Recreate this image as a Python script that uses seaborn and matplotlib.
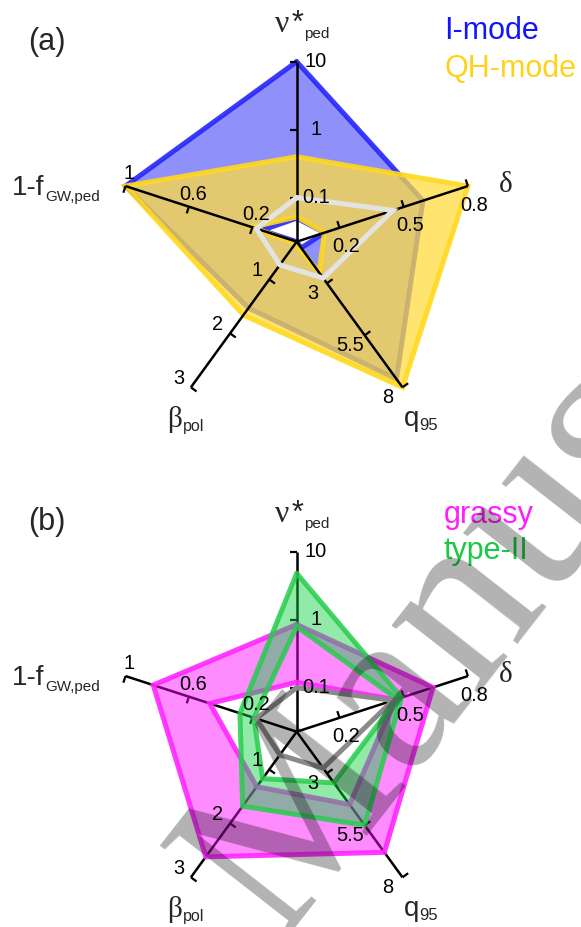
import numpy as np
import matplotlib
matplotlib.use("Agg")
import matplotlib.pyplot as plt
import seaborn as sns
from matplotlib.path import Path
from matplotlib.patches import PathPatch

# ---------------- data ----------------
AXIS_ANGLES = [90, 18, -54, -126, 162]          # nu*, delta, q95, beta_pol, 1-fGW
SCALE_LO = [0.0225, 0.0, 1.0, 0.3, -0.08]
SCALE_HI = [10.0, 0.8, 8.0, 3.0, 1.0]
SCALE_LOG = [True, False, False, False, False]
TICKS = [[0.1, 1, 10], [0.2, 0.5, 0.8], [3, 5.5, 8], [1, 2, 3], [0.2, 0.6, 1]]
TICK_LABELS = [["0.1", "1", "10"], ["0.2", "0.5", "0.8"], ["3", "5.5", "8"],
               ["1", "2", "3"], ["0.2", "0.6", "1"]]

imode_max = [10.0, 0.59, 7.6, 1.53, 1.0]
imode_min = [0.05, 0.13, 1.3, 0.3, 0.14]
qh_max = [0.4, 0.8, 8.0, 1.66, 1.0]
qh_min = [0.052, 0.13, 2.48, 0.33, 0.2]
grassy_max = [0.85, 0.637, 6.8, 2.62, 0.825]
grassy_min = [0.12, 0.46, 4.5, 1.32, 0.468]
type2_max = [4.8, 0.49, 5.5, 1.68, 0.278]
type2_min = [0.79, 0.47, 3.46, 1.17, 0.19]
reference = [0.1, 0.45, 2.75, 0.73, 0.175]

# ---------------- style ----------------
sns.set_theme(style="white")
plt.rcParams["font.family"] = ["Liberation Sans", "DejaVu Sans"]
SERIF = ["Liberation Serif", "DejaVu Serif"]

W, H = 581, 927
R = 180.0  # px per unit radius
fig = plt.figure(figsize=(W / 100, H / 100), dpi=100)


def norm(i, v):
    lo, hi = SCALE_LO[i], SCALE_HI[i]
    if SCALE_LOG[i]:
        return (np.log10(v) - np.log10(lo)) / (np.log10(hi) - np.log10(lo))
    return (v - lo) / (hi - lo)


TH = np.radians(AXIS_ANGLES)


def to_xy(vals):
    r = np.array([norm(i, v) for i, v in enumerate(vals)])
    return r * np.cos(TH), r * np.sin(TH)


def make_ax(cy, top, bottom, cx=296.7):
    ax = fig.add_axes([0, 1 - bottom / H, 1, (bottom - top) / H])
    ax.set_xlim(-cx / R, (W - cx) / R)
    ax.set_ylim(-(bottom - cy) / R, (cy - top) / R)
    ax.set_axis_off()
    return ax


def draw_axes(ax, z, lab_off):
    L = 7 / R
    for i, th in enumerate(TH):
        c, s = np.cos(th), np.sin(th)
        ax.plot([0, c], [0, s], color="black", lw=1.8, zorder=z,
                solid_capstyle="butt", clip_on=False)
        for t, lab in zip(TICKS[i], TICK_LABELS[i]):
            r = norm(i, t)
            px, py = r * c, r * s
            ax.plot([px, px - L * s], [py, py + L * c], color="black", lw=1.6,
                    zorder=z, solid_capstyle="butt", clip_on=False)
            d = lab_off[i]
            ax.annotate(lab, xy=(px, py), xytext=(d * s, -d * c),
                        textcoords="offset pixels", ha="center", va="center",
                        fontsize=14.4, color="black", zorder=20)


def band(ax, vmax, vmin, color, alpha, lcolor, lalpha, z):
    xo, yo = to_xy(vmax)
    xi, yi = to_xy(vmin)
    verts = list(zip(xo, yo)) + [(xo[0], yo[0])] + \
        list(zip(xi[::-1], yi[::-1])) + [(xi[-1], yi[-1])]
    codes = [Path.MOVETO] + [Path.LINETO] * 4 + [Path.CLOSEPOLY] + \
        [Path.MOVETO] + [Path.LINETO] * 4 + [Path.CLOSEPOLY]
    ax.add_patch(PathPatch(Path(verts, codes), facecolor=color, alpha=alpha,
                           edgecolor="none", zorder=z))
    for xx, yy in ((xo, yo), (xi, yi)):
        sns.lineplot(x=np.append(xx, xx[0]), y=np.append(yy, yy[0]), ax=ax,
                     sort=False, estimator=None, color=lcolor, alpha=lalpha,
                     lw=3.6, zorder=z + 0.5, legend=False)
    for ln in ax.lines[-2:]:
        ln.set_solid_joinstyle("miter")
        ln.set_clip_on(False)


def ref_line(ax, color, z):
    x, y = to_xy(reference)
    sns.lineplot(x=np.append(x, x[0]), y=np.append(y, y[0]), ax=ax, sort=False,
                 estimator=None, color=color, lw=3.6, zorder=z, legend=False)
    ax.lines[-1].set_solid_joinstyle("miter")


LAB_OFF = [19, 20, 18, 15, 13]

# ---------------- panel (a) ----------------
axa = make_ax(241.7, 0, 463.5)
band(axa, imode_max, imode_min, (0.08, 0.08, 0.96), 0.47, (0.15, 0.15, 0.98), 0.9, 2)
band(axa, qh_max, qh_min, (1.0, 0.866, 0.25), 0.75, (1.0, 0.85, 0.12), 0.9, 3)
draw_axes(axa, 5, LAB_OFF)
ref_line(axa, "#e3e3e3", 6)

# ---------------- panel (b) ----------------
axb = make_ax(731.7, 463.5, 927)
draw_axes(axb, 1, LAB_OFF)
band(axb, grassy_max, grassy_min, (1.0, 0.0, 1.0), 0.45, (1.0, 0.15, 1.0), 0.9, 2)
band(axb, type2_max, type2_min, (0.05, 0.82, 0.25), 0.45, (0.15, 0.8, 0.3), 0.85, 3)
ref_line(axb, "#8a8a8a", 6)


# ---------------- texts ----------------
def T(x, y, s, **kw):
    return fig.text(x / W, 1 - y / H, s, **kw)


for dy, panel, leg in ((0, "(a)", [("I-mode", "#1414ff", 39), ("QH-mode", "#ffd21a", 77)]),
                       (490, "(b)", [("grassy", "#ff1eff", 523), ("type-II", "#1ec843", 559)])):
    T(28, 50 + dy * 0.98, panel, fontsize=22, ha="left", va="baseline")
    for s, col, yb in leg:
        T(444, yb, s, fontsize=22, color=col, ha="left", va="baseline")
    # nu*_ped
    T(275, 32 + dy, "\u03bd", fontsize=23, family=SERIF, ha="left", va="baseline")
    T(292, 32 + dy, "*", fontsize=22, ha="left", va="baseline")
    T(304, 38 + dy, "ped", fontsize=11, ha="left", va="baseline")
    # delta
    T(499, 192 + dy, "\u03b4", fontsize=21, family=SERIF, ha="left", va="baseline")
    # q95
    T(404, 426 + dy, "q", fontsize=20, ha="left", va="baseline")
    T(419, 430 + dy, "95", fontsize=12, ha="left", va="baseline")
    # beta_pol
    T(167, 427 + dy, "\u03b2", fontsize=21, family=SERIF, ha="left", va="baseline")
    T(183, 431 + dy, "pol", fontsize=11.5, ha="left", va="baseline")
    # 1-f_GW,ped
    T(12, 195 + dy, "1-f", fontsize=20, ha="left", va="baseline")
    T(45, 201 + dy, "GW,ped", fontsize=11, ha="left", va="baseline")

# ---------------- watermark ----------------
T(277, 943, "Manuscript", fontsize=172, family=SERIF, color="black", alpha=0.3,
  rotation=52, rotation_mode="anchor", ha="left", va="baseline", zorder=50)

fig.savefig("out.png", dpi=100)
